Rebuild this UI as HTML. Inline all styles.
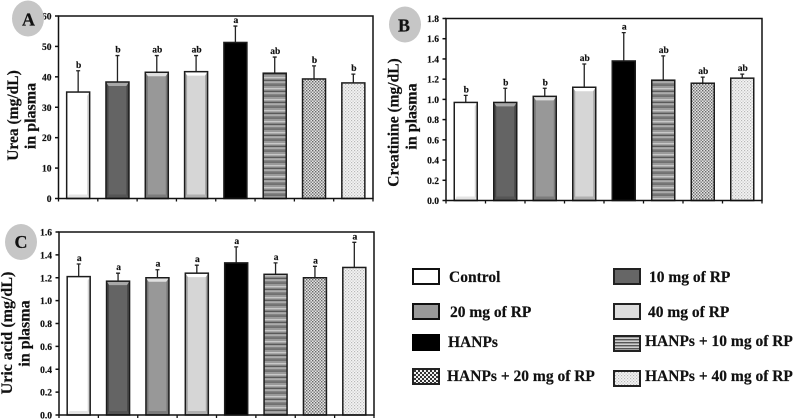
<!DOCTYPE html>
<html lang="en">
<head>
<meta charset="utf-8">
<title>Plasma urea, creatinine and uric acid</title>
<style>
html,body{margin:0;padding:0;background:#fff;width:794px;height:420px;overflow:hidden}
svg{display:block;filter:blur(0.35px)}
text{font-family:"Liberation Serif",serif;font-weight:bold;fill:#111;stroke:#111;stroke-width:.2px}
</style>
</head>
<body>
<svg id="figure" xmlns="http://www.w3.org/2000/svg" width="794" height="420" viewBox="0 0 794 420">
  <defs>
    <pattern id="hatch" patternUnits="userSpaceOnUse" width="6" height="11">
      <rect width="6" height="11" fill="#858585"/>
      <rect y="0" width="6" height="1.5" fill="#c8c8c8"/>
      <rect y="3" width="6" height="1" fill="#5a5a5a"/>
      <rect y="4.5" width="6" height="1.2" fill="#bcbcbc"/>
      <rect y="7.5" width="6" height="1.2" fill="#666"/>
      <rect y="9.5" width="6" height="1" fill="#b0b0b0"/>
    </pattern>
    <pattern id="dots" patternUnits="userSpaceOnUse" width="3" height="3">
      <rect width="3" height="3" fill="#e4e4e4"/>
      <rect width="1.4" height="1.4" fill="#666"/>
      <rect x="1.5" y="1.5" width="1.4" height="1.4" fill="#707070"/>
    </pattern>
    <pattern id="fine" patternUnits="userSpaceOnUse" width="3" height="3">
      <rect width="3" height="3" fill="#f4f4f4"/>
      <rect width="1.2" height="1.2" fill="#b8b8b8"/>
      <rect x="1.5" y="1.5" width="1.2" height="1.2" fill="#c4c4c4"/>
    </pattern>
    <pattern id="legendDots" patternUnits="userSpaceOnUse" width="4" height="4">
      <rect width="4" height="4" fill="#f0f0f0"/>
      <rect width="2" height="2" fill="#333"/>
      <rect x="2" y="2" width="2" height="2" fill="#333"/>
    </pattern>
    <pattern id="legendHatch" patternUnits="userSpaceOnUse" width="4" height="3">
      <rect width="4" height="3" fill="#d0d0d0"/>
      <rect width="4" height="1.4" fill="#555"/>
    </pattern>
  </defs>

  <g id="chart-a"></g>
  <g id="chart-b"></g>
  <g id="chart-c"></g>

  <g>
    <ellipse cx="28" cy="18.5" rx="16" ry="18" fill="#c6c6c6"/>
    <text x="28.5" y="25.5" font-size="18" text-anchor="middle">A</text>
  </g>
  <g>
    <ellipse cx="405" cy="24.5" rx="16" ry="18" fill="#c6c6c6"/>
    <text x="404" y="31.5" font-size="18" text-anchor="middle">B</text>
  </g>
  <g>
    <ellipse cx="21" cy="242" rx="16" ry="18" fill="#c6c6c6"/>
    <text x="21" y="248" font-size="18" text-anchor="middle">C</text>
  </g>

  <text transform="translate(18,115.5) rotate(-90)" font-size="15.5" text-anchor="middle">Urea (mg/dL)</text>
  <text transform="translate(35.5,116) rotate(-90)" font-size="16" text-anchor="middle">in plasma</text>
  <text transform="translate(398.5,122.5) rotate(-90)" font-size="15.5" text-anchor="middle">Creatinine (mg/dL)</text>
  <text transform="translate(416.5,116.5) rotate(-90)" font-size="16" text-anchor="middle">in plasma</text>
  <text transform="translate(12,333) rotate(-90)" font-size="16" text-anchor="middle">Uric acid (mg/dL)</text>
  <text transform="translate(29.5,333.5) rotate(-90)" font-size="16" text-anchor="middle">in plasma</text>

  <g>
    <g>
      <rect x="413" y="269" width="26" height="15" fill="#fff" stroke="#111" stroke-width="2"/>
      <text x="449" y="282" font-size="15.5">Control</text>
    </g>
    <g>
      <rect x="614" y="269" width="26" height="15" fill="#666" stroke="#222" stroke-width="2"/>
      <text x="649" y="282" font-size="15.5">10 mg of RP</text>
    </g>
    <g>
      <rect x="413" y="304" width="26" height="15" fill="#999" stroke="#111" stroke-width="2"/>
      <text x="450" y="317" font-size="15.5">20 mg of RP</text>
    </g>
    <g>
      <rect x="614" y="304" width="26" height="15" fill="#ddd" stroke="#222" stroke-width="2"/>
      <text x="648" y="317" font-size="15.5">40 mg of RP</text>
    </g>
    <g>
      <rect x="412" y="334" width="28" height="17" fill="#000"/>
      <text x="448" y="347" font-size="15.5">HANPs</text>
    </g>
    <g>
      <rect x="614" y="336" width="26" height="15" fill="url(#legendHatch)" stroke="#222" stroke-width="2"/>
      <text x="645" y="346" font-size="15.5">HANPs + 10 mg of RP</text>
    </g>
    <g>
      <rect x="413" y="369" width="26" height="15" fill="url(#legendDots)" stroke="#222" stroke-width="2"/>
      <text x="447" y="381" font-size="15.5">HANPs + 20 mg of RP</text>
    </g>
    <g>
      <rect x="614" y="371" width="26" height="15" fill="url(#fine)" stroke="#222" stroke-width="2"/>
      <text x="645" y="381" font-size="15.5">HANPs + 40 mg of RP</text>
    </g>
  </g>
</svg>

<script>
const groups = ['control', '10-mg-rp', '20-mg-rp', '40-mg-rp', 'hanps', 'hanps-10-mg-rp', 'hanps-20-mg-rp', 'hanps-40-mg-rp'];

const ureaValues = [35, 38.3, 41.5, 41.7, 51.3, 41.2, 39.3, 38];
const ureaUpper = [42, 47, 47, 47, 56.7, 46.5, 43.6, 40.9];
const ureaLetters = ['b', 'b', 'ab', 'ab', 'a', 'ab', 'b', 'b'];
const ureaTicks = ['0', '10', '20', '30', '40', '50', '60'];

const creatinineValues = [0.97, 0.97, 1.03, 1.12, 1.38, 1.19, 1.16, 1.21];
const creatinineUpper = [1.04, 1.11, 1.11, 1.35, 1.66, 1.43, 1.22, 1.25];
const creatinineLetters = ['b', 'b', 'b', 'ab', 'a', 'ab', 'ab', 'ab'];
const creatinineTicks = ['0.0', '0.2', '0.4', '0.6', '0.8', '1.0', '1.2', '1.4', '1.6', '1.8'];

const uricValues = [1.21, 1.17, 1.20, 1.24, 1.33, 1.23, 1.20, 1.29];
const uricUpper = [1.32, 1.24, 1.27, 1.31, 1.47, 1.33, 1.30, 1.51];
const uricLetters = ['a', 'a', 'a', 'a', 'a', 'a', 'a', 'a'];
const uricTicks = ['0.0', '0.2', '0.4', '0.6', '0.8', '1.0', '1.2', '1.4', '1.6'];

const SVG_NS = 'http://www.w3.org/2000/svg';
const looks = [
  {fill: '#ffffff', top: '#ffffff', side: '#d4d4d4', bottom: '#e4e4e4'},
  {fill: '#646464', top: '#a8a8a8', side: '#484848', bottom: '#555555'},
  {fill: '#989898', top: '#e0e0e0', side: '#777777', bottom: '#7c7c7c'},
  {fill: '#d6d6d6', top: '#ffffff', side: '#a4a4a4', bottom: '#b0b0b0'},
  {fill: '#000000'},
  {fill: 'url(#hatch)'},
  {fill: 'url(#dots)'},
  {fill: 'url(#fine)'}
];

function make(parent, tag, props, text) {
  const el = document.createElementNS(SVG_NS, tag);
  for (const key in props) el.setAttribute(key, props[key]);
  if (text !== undefined) el.textContent = text;
  parent.appendChild(el);
  return el;
}

function drawChart(id, box, maxValue, values, upper, letters, ticks) {
  const root = document.getElementById(id);
  const plotH = box.bottom - box.top;
  const plotW = box.right - box.left;
  const slot = plotW / values.length;
  const barW = 23;
  const y = function (v) { return box.bottom - (v / maxValue) * plotH; };
  const x = function (i) { return box.left + slot * (i + 0.5) - barW / 2; };

  ticks.forEach(function (label) {
    const v = parseFloat(label);
    const mark = make(root, 'line', {x1: box.left - 3.5, x2: box.left, y1: y(v), y2: y(v), stroke: '#111', 'stroke-width': 1.5});
    
    
    const t = make(root, 'text', {x: box.left - 7, y: y(v) + 3.5, 'font-size': 9.5, 'text-anchor': 'end'}, label);
    
    
  });

  for (let i = 0; i <= values.length; i++) {
    const px = box.left + slot * i;
    const mark = make(root, 'line', {x1: px, x2: px, y1: box.bottom, y2: box.bottom + 3, stroke: '#111', 'stroke-width': 1.3});
    
    
  }

  values.forEach(function (v, i) {
    const look = looks[i];
    const bx = x(i);
    const by = y(v);
    const bh = box.bottom - by;
    const cx = bx + barW / 2;

    const whisker = make(root, 'path', {
      d: 'M' + cx + ' ' + by + 'V' + y(upper[i]) + 'M' + (cx - 2) + ' ' + y(upper[i]) + 'H' + (cx + 2),
      fill: 'none', stroke: '#222', 'stroke-width': 1.3
    });
    
    

    const bar = make(root, 'rect', {x: bx, y: by, width: barW, height: bh, fill: look.fill});
    
    

    if (look.top) {
      const d = 4;
      const s = 2.5;
      const l = bx, r = bx + barW, t = by, b = box.bottom;
      make(root, 'polygon', {points: [l, t, r, t, r - s, t + d, l + s, t + d].join(' '), fill: look.top});
      make(root, 'polygon', {points: [r, t, r, b, r - s, b - d, r - s, t + d].join(' '), fill: look.side});
      make(root, 'polygon', {points: [l, b, r, b, r - s, b - d, l + s, b - d].join(' '), fill: look.bottom});
      if (i > 0) {
        make(root, 'polygon', {points: [l, t, l + s, t + d, l + s, b - d, l, b].join(' '), fill: look.side});
      }
    }

    const outline = make(root, 'rect', {x: bx, y: by, width: barW, height: bh, fill: 'none', stroke: '#1c1c1c', 'stroke-width': 1.5});
    
    

    const letter = make(root, 'text', {x: cx + 0.5, y: y(upper[i]) - 3, 'font-size': 9.5, 'text-anchor': 'middle'}, letters[i]);
    
    
  });

  const frame = make(root, 'rect', {x: box.left, y: box.top, width: plotW, height: plotH, fill: 'none', stroke: '#111', 'stroke-width': 1.5});
  
  
}

drawChart('chart-a', {left: 58.5, right: 373, top: 16, bottom: 198.5}, 60, ureaValues, ureaUpper, ureaLetters, ureaTicks);
drawChart('chart-b', {left: 446, right: 762, top: 18.5, bottom: 200.5}, 1.8, creatinineValues, creatinineUpper, creatinineLetters, creatinineTicks);
drawChart('chart-c', {left: 59, right: 374, top: 232, bottom: 415}, 1.6, uricValues, uricUpper, uricLetters, uricTicks);
</script>
</body>
</html>
